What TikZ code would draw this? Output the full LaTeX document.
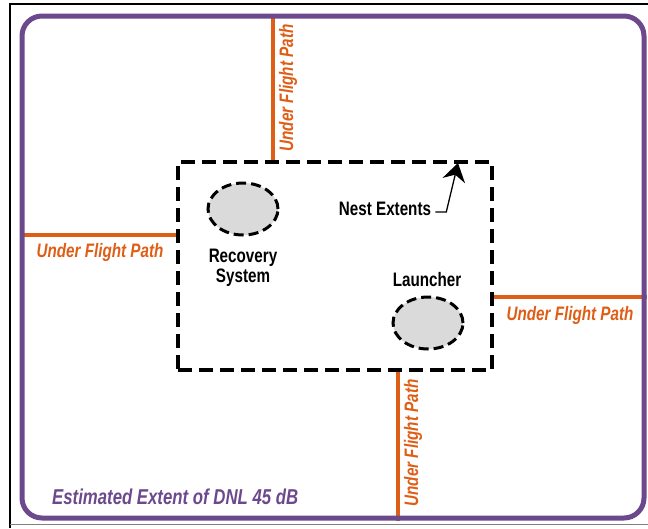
\documentclass[tikz,border=0pt]{standalone}
\usepackage{fontspec}
\setmainfont[FakeStretch=0.78]{Liberation Sans}
\usepackage{xcolor}
\usepackage{tikz}
\usetikzlibrary{arrows.meta,positioning,shapes.geometric,backgrounds}
\definecolor{dnlpurple}{RGB}{108,72,140}
\definecolor{fpath}{RGB}{222,94,22}
\definecolor{padgray}{RGB}{218,218,218}

\begin{document}
\begin{tikzpicture}[x=1pt, y=-1pt, >=Stealth,
  lbl/.style={font=\fontsize{19.5}{20}\selectfont\bfseries, align=center, inner sep=0pt},
  fp/.style={font=\fontsize{19.5}{20}\selectfont\bfseries\itshape, text=fpath, inner sep=0pt},
  flight/.style={draw=fpath, line width=3.5pt},
  pad/.style={ellipse, draw, fill=padgray, line width=3pt, dash pattern=on 10pt off 5pt, minimum width=70pt, minimum height=52pt, inner sep=0pt}]
\useasboundingbox (0,0) rectangle (648,528);
% page frame
\draw[line width=2pt] (10,528) -- (10,4) -- (648,4);
\draw[gray, line width=1.5pt] (10,524.5) -- (648,524.5);
% DNL contour and nest
\node[draw=dnlpurple, line width=5pt, rounded corners=20pt, minimum width=622pt, minimum height=502pt, inner sep=0pt] (dnl) at (333,267) {};
\node[draw, line width=3.5pt, dash pattern=on 14pt off 7pt, minimum width=314pt, minimum height=208pt, inner sep=0pt] (nest) at (335,266) {};
\node[pad] (rec) at (243,209) {};
\node[pad] (lau) at (428,323) {};
\node[lbl] (reclbl) at (243,268) {Recovery\\System};
\node[lbl] (laulbl) at (427,280) {Launcher};
\node[lbl] (nestlbl) at (385,209) {Nest Extents};
\coordinate (tip) at (458,163);
\draw[line width=1.3pt, -{Stealth[length=18pt, width=23pt, inset=6pt]}] (nestlbl.east) ++(4pt,-3pt) -- ++(11pt,0) -- (tip);
% under flight paths
\coordinate (tx) at (273,0); \coordinate (bx) at (398,0);
\coordinate (ly) at (0,235); \coordinate (ry) at (0,297);
\begin{scope}[on background layer]
\draw[flight] (tx |- nest.north) -- (tx |- dnl.north);
\draw[flight] (bx |- nest.south) -- (bx |- dnl.south);
\draw[flight] (ly -| nest.west) -- (ly -| dnl.west);
\draw[flight] (ry -| nest.east) -- (ry -| dnl.east);
\end{scope}
\foreach \i/\px/\py/\rot in {1/288/88/90, 2/100/252/0, 3/570/315/0, 4/413/443/90}
  \node[fp, rotate=\rot] (fp\i) at (\px,\py) {Under Flight Path};
\node[font=\fontsize{21.5}{22}\selectfont\bfseries\itshape, text=dnlpurple, anchor=west, inner sep=0pt] (dnltxt) at (52,497) {Estimated Extent of DNL 45 dB};
\end{tikzpicture}
\end{document}
